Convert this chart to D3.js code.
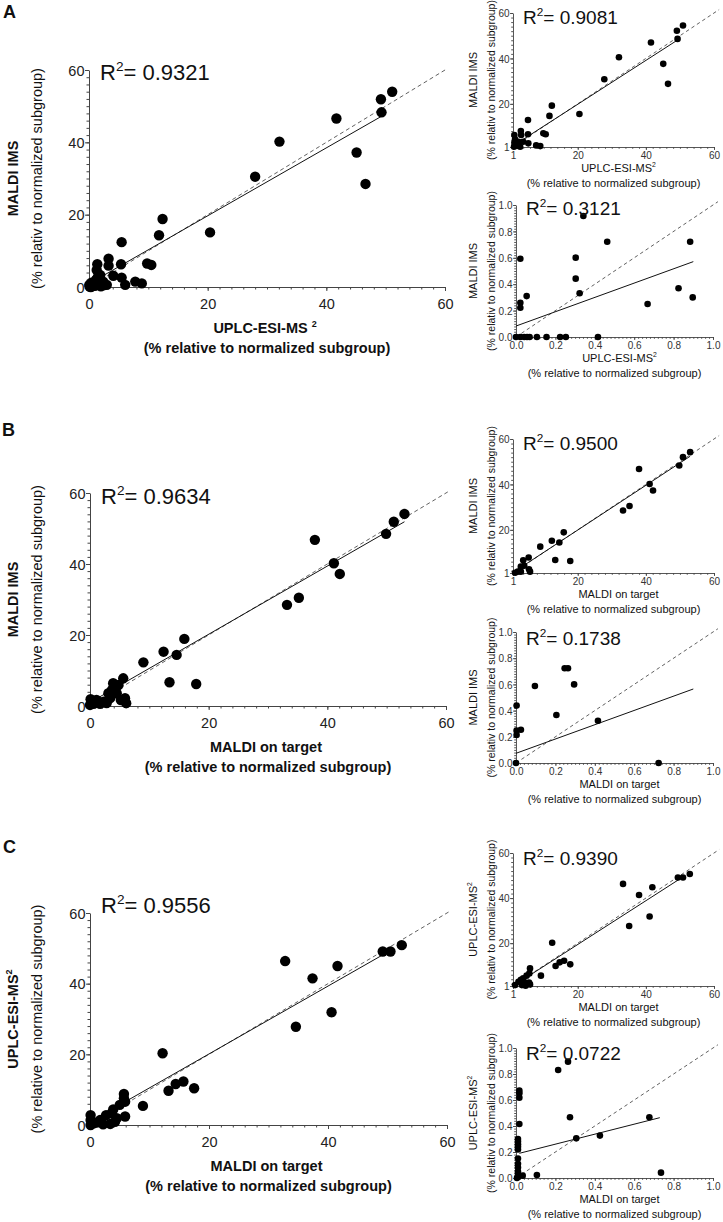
<!DOCTYPE html>
<html>
<head>
<meta charset="utf-8">
<script src="https://cdnjs.cloudflare.com/ajax/libs/d3/7.8.5/d3.min.js"></script>
<style>
  body { margin: 0; background: #fff; }
  svg { font-family: "Liberation Sans", Arial, sans-serif; }
</style>
</head>
<body>
<div id="fig"></div>
<script>

// ---- data ----
// panel A, large plot (UPLC-ESI-MS2 vs MALDI IMS)
var aX = [41.7, 32.1, 28.0, 45.1, 46.6, 49.2, 49.3, 51.1, 20.4, 12.4, 11.8, 5.5, 9.8, 10.5, 5.4, 3.3, 3.3, 1.4, 4.1, 5.5, 6.1, 7.8, 8.9, 1.3, 1.9, 2.4, 3.0, 0.2, 0.4, 0.5, 0.8, 1.0, 1.2, 1.6, 2.0, 2.5, 0.1, 0.3, 0.6, 0.9, 0.05, 0.35, 1.5];
var aY = [46.6, 40.2, 30.5, 37.2, 28.5, 51.9, 48.3, 54.0, 15.1, 18.8, 14.3, 12.4, 6.5, 6.1, 6.3, 7.8, 5.9, 6.3, 3.1, 2.6, 0.6, 1.5, 1.0, 4.7, 3.3, 1.5, 0.6, 0.5, 1.2, 0.2, 0.9, 0.3, 2.0, 1.0, 0.2, 0.5, 0.1, 0.0, 0.3, 0.6, 0.6, 0.9, 2.8];
var aFitX = [0, 49.3], aFitY = [0.9, 47.2];

// panel A, small upper plot
var a1X = [50.9, 49.1, 49.3, 41.5, 32.1, 27.8, 45.1, 46.5, 20.5, 12.4, 11.7, 5.4, 9.9, 10.6, 5.4, 3.3, 3.4, 1.4, 1.6, 1.9, 2.6, 4.0, 5.5, 7.8, 9.0, 1.3, 2.3, 3.1, 1.4];
var a1Y = [54.5, 52.2, 48.6, 47.0, 40.5, 30.8, 37.6, 28.8, 15.5, 19.2, 14.7, 12.9, 7.0, 6.6, 6.6, 8.0, 6.3, 6.3, 4.4, 2.6, 3.3, 3.3, 2.6, 1.7, 1.4, 1.1, 1.6, 1.1, 2.9];
var a1FitX = [1.3, 49.3], a1FitY = [1.75, 48.1];

// panel A, small lower plot (0-1 %)
var a2X = [0.342, 0.463, 0.884, 0.022, 0.303, 0.303, 0.323, 0.022, 0.022, 0.054, 0.825, 0.897, 0.668, 0, 0.022, 0.042, 0.056, 0.069, 0.106, 0.155, 0.224, 0.253, 0.416];
var a2Y = [0.917, 0.722, 0.722, 0.593, 0.601, 0.442, 0.331, 0.26, 0.222, 0.31, 0.369, 0.300, 0.25, 0, 0, 0, 0, 0, 0, 0, 0, 0, 0];
var a2FitX = [0, 0.9], a2FitY = [0.083, 0.571];

// panel B, large plot (MALDI on target vs MALDI IMS)
var bX = [37.9, 41.1, 42.1, 33.2, 35.2, 49.9, 51.2, 53.0, 15.9, 12.4, 14.6, 9.0, 13.4, 17.9, 5.6, 3.9, 4.8, 3.7, 3.1, 3.4, 4.5, 5.9, 6.1, 5.2, 2.3, 1.1, 0.3, 0.0, 0.6, 1.7, 2.8, 0.1];
var bY = [46.8, 40.2, 37.2, 28.5, 30.5, 48.5, 51.9, 54.1, 18.9, 15.3, 14.4, 12.3, 6.7, 6.2, 7.8, 6.4, 5.9, 4.5, 3.6, 2.2, 3.6, 2.2, 0.8, 1.7, 1.2, 1.7, 1.2, 0.3, 0.6, 0.6, 0.8, 1.9];
var bFitX = [0, 53], bFitY = [1.0, 51.9];

var b1X = [53.0, 50.9, 49.8, 38.0, 41.1, 42.1, 33.3, 35.2, 15.9, 12.4, 14.6, 9.0, 13.4, 17.8, 5.6, 4.0, 4.3, 3.3, 3.3, 6.0, 5.7, 2.4, 1.6];
var b1Y = [54.2, 52.0, 48.3, 46.8, 40.2, 37.3, 28.5, 30.5, 18.9, 15.2, 14.4, 12.6, 6.7, 6.3, 7.8, 6.6, 4.2, 3.8, 1.6, 1.6, 2.6, 1.6, 1.1];
var b1FitX = [1.3, 53], b1FitY = [1.5, 52.4];

var b2X = [0.247, 0.264, 0.295, 0.096, 0.205, 0.416, 0.003, 0.003, 0.025, 0.003, 0, 0.724];
var b2Y = [0.723, 0.723, 0.60, 0.588, 0.366, 0.323, 0.438, 0.247, 0.254, 0.214, 0, 0];
var b2FitX = [0, 0.9], b2FitY = [0.074, 0.565];

// panel C, large plot (MALDI on target vs UPLC-ESI-MS2)
var cX = [32.8, 37.4, 41.6, 34.6, 40.6, 49.2, 50.5, 52.4, 12.2, 13.2, 14.4, 15.7, 17.5, 8.9, 5.7, 5.9, 5.0, 3.9, 3.6, 2.7, 4.5, 5.9, 3.4, 4.2, 1.7, 1.1, 0.1, 0.1, 0.6, 0.1, 2.2, 5.7];
var cY = [46.4, 41.5, 45.0, 27.8, 31.9, 49.1, 49.1, 50.9, 20.3, 9.7, 11.6, 12.3, 10.4, 5.4, 8.8, 6.6, 5.7, 4.4, 3.3, 2.8, 1.9, 2.4, 0.3, 0.9, 1.4, 0.7, 2.8, 1.4, 0.5, 0, 0.2, 7.6];
var cFitX = [0, 50.5], cFitY = [0.9, 49.4];

var c1X = [33.3, 38.0, 41.9, 35.1, 41.1, 49.4, 50.9, 52.9, 12.5, 13.5, 14.7, 16.0, 17.8, 9.2, 6.0, 5.8, 5.0, 4.0, 3.3, 2.6, 4.5, 5.7, 6.0, 3.6, 1.6, 4.7];
var c1Y = [46.3, 41.4, 44.8, 27.6, 31.8, 49.1, 49.1, 50.7, 20.2, 9.9, 11.5, 12.2, 10.6, 5.6, 8.8, 6.6, 5.6, 4.4, 3.7, 2.9, 2.5, 2.5, 1.7, 1.4, 1.4, 1.1];
var c1FitX = [1.6, 50.9], c1FitY = [1.55, 49.4];

var c2X = [0.264, 0.214, 0.017, 0.017, 0.017, 0.274, 0.677, 0.017, 0.306, 0.426, 0.106, 0.736, 0.034, 0.01, 0.01, 0.01, 0.01, 0.01, 0.01, 0.01, 0.01, 0.01, 0.01, 0.01, 0.005];
var c2Y = [0.895, 0.831, 0.672, 0.651, 0.618, 0.467, 0.467, 0.415, 0.305, 0.326, 0.023, 0.041, 0.018, 0.30, 0.28, 0.26, 0.24, 0.22, 0.15, 0.11, 0.08, 0.05, 0.03, 0.01, 0];
var c2FitX = [0.017, 0.73], c2FitY = [0.19, 0.464];

// R squared labels
var rSquared = ["0.9321", "0.9081", "0.3121", "0.9634", "0.9500", "0.1738", "0.9556", "0.9390", "0.0722"];

// tick values
var bigTicks = [0, 20, 40, 60];
var smallTicks = [1, 20, 40, 60];
var fracTicks = [0, 0.2, 0.4, 0.6, 0.8, 1.0];

// ---- drawing ----
var svg = d3.select("#fig").append("svg")
  .attr("width", 723)
  .attr("height", 1222);

// text with a superscript part, e.g. R^2
function supText(sel, pre, sup, post, size, gap) {
  sel.append("tspan").text(pre);
  sel.append("tspan")
    .attr("font-size", size * 0.62)
    .attr("dx", gap || 0)
    .attr("dy", -size * 0.42)
    .text(sup);
  if (post) sel.append("tspan").attr("dy", size * 0.42).text(post);
}

function drawScatter(p) {
  var big = p.big;
  var x = d3.scaleLinear().domain(p.xDomain).range([p.left, p.right]);
  var y = d3.scaleLinear().domain(p.yDomain).range([p.bottom, p.top]);
  var g = svg.append("g");

  var majLen = big ? 4 : 3;
  var minLen = big ? 2.5 : 1.8;
  var fmt = p.frac ? d3.format(".1f") : d3.format("d");
  var axisColor = "#444";

  // minor ticks
  g.append("g")
    .attr("transform", `translate(0,${p.bottom})`)
    .call(d3.axisBottom(x).tickValues(p.minor).tickSize(minLen).tickFormat(""))
    .call(a => a.select(".domain").remove());
  g.append("g")
    .attr("transform", `translate(${p.left},0)`)
    .call(d3.axisLeft(y).tickValues(p.minor).tickSize(minLen).tickFormat(""))
    .call(a => a.select(".domain").remove());

  // major axes
  var xAxis = g.append("g")
    .attr("transform", `translate(0,${p.bottom})`)
    .call(d3.axisBottom(x).tickValues(p.ticks).tickFormat(fmt)
      .tickSize(majLen).tickSizeOuter(0).tickPadding(big ? 8 : 2));
  var yAxis = g.append("g")
    .attr("transform", `translate(${p.left},0)`)
    .call(d3.axisLeft(y).tickValues(p.ticks).tickFormat(fmt)
      .tickSize(majLen).tickSizeOuter(0).tickPadding(big ? 0.5 : 0.5));

  g.selectAll(".tick line, .domain").attr("stroke", axisColor).attr("stroke-width", big ? 1 : 0.9);
  [xAxis, yAxis].forEach(function(a) {
    a.selectAll("text")
      .attr("font-family", '"Liberation Sans", Arial, sans-serif')
      .attr("font-size", big ? 14.5 : 10)
      .attr("fill", big ? "#222" : "#333");
  });
  // y tick labels sit on the middle of the tick
  yAxis.selectAll("text").attr("dy", "0.36em");

  // identity line (dashed)
  var lo = p.xDomain[0], hi = p.xDomain[1] * (big ? 1.005 : 1.025);
  g.append("line")
    .attr("x1", x(lo)).attr("y1", y(lo))
    .attr("x2", x(hi)).attr("y2", y(hi))
    .attr("stroke", "#444")
    .attr("stroke-width", 0.85)
    .attr("stroke-dasharray", big ? "4,3" : "3.5,3");

  // regression line
  g.append("line")
    .attr("x1", x(p.fitX[0])).attr("y1", y(p.fitY[0]))
    .attr("x2", x(p.fitX[1])).attr("y2", y(p.fitY[1]))
    .attr("stroke", "#111")
    .attr("stroke-width", 1);

  // points
  var pts = p.xs.map((v, i) => [v, p.ys[i]]);
  g.selectAll("circle.pt")
    .data(pts)
    .enter()
    .append("circle")
    .attr("class", "pt")
    .attr("cx", d => x(d[0]))
    .attr("cy", d => y(d[1]))
    .attr("r", big ? 5.2 : 3.3)
    .attr("fill", "#000");

  // R^2 label
  var r = g.append("text")
    .attr("x", p.left + (big ? 11 : 10))
    .attr("y", p.top + p.rOff)
    .attr("font-size", big ? 22 : 19)
    .attr("fill", "#111");
  supText(r, "R", "2", "= " + p.r2, big ? 22 : 19);

  // x axis title
  var cx = (p.left + p.right) / 2;
  var tSize = big ? 14.5 : 11;
  var t1 = g.append("text")
    .attr("x", cx + (big ? -2 : 5))
    .attr("y", p.bottom + (big ? 41 : 21))
    .attr("dy", "0.35em")
    .attr("text-anchor", "middle")
    .attr("font-size", tSize)
    .attr("font-weight", big ? "bold" : "normal")
    .attr("fill", "#111");
  if (p.xSup) supText(t1, p.xTitle, "2", null, tSize, big ? 4 : 0);
  else t1.text(p.xTitle);
  g.append("text")
    .attr("x", cx)
    .attr("y", p.bottom + (big ? 61 : 36))
    .attr("dy", "0.35em")
    .attr("text-anchor", "middle")
    .attr("font-size", tSize)
    .attr("font-weight", big ? "bold" : "normal")
    .attr("fill", "#111")
    .text("(% relative to normalized subgroup)");

  // y axis title
  var cy = (p.top + p.bottom) / 2;
  var y1 = g.append("text")
    .attr("transform", `translate(${big ? 13 : 473},${cy}) rotate(-90)`)
    .attr("dy", "0.35em")
    .attr("text-anchor", "middle")
    .attr("font-size", tSize)
    .attr("font-weight", big ? "bold" : "normal")
    .attr("fill", "#111");
  if (p.ySup) supText(y1, p.yTitle, "2", null, tSize, 0);
  else y1.text(p.yTitle);
  g.append("text")
    .attr("transform", `translate(${big ? 37 : 491},${cy}) rotate(-90)`)
    .attr("dy", "0.35em")
    .attr("text-anchor", "middle")
    .attr("font-size", big ? 14.5 : 10.5)
    .attr("fill", "#111")
    .text(p.yTitle2);
}

var minorBig = d3.range(0, 60.001, 2);
var minorSmall = d3.range(2, 60.001, 2);
var minorFrac = d3.range(0, 1.0001, 0.02);

var relativ = "(% relativ to normalized subgroup)";
var relative = "(% relative to normalized subgroup)";

var plots = [
  // panel A
  {big: true, xs: aX, ys: aY, fitX: aFitX, fitY: aFitY, r2: rSquared[0], rOff: 10,
   left: 89, right: 445, top: 70, bottom: 287, xDomain: [0, 60], yDomain: [0, 60],
   ticks: bigTicks, minor: minorBig, xTitle: "UPLC-ESI-MS", xSup: true,
   yTitle: "MALDI IMS", yTitle2: relativ},
  {big: false, xs: a1X, ys: a1Y, fitX: a1FitX, fitY: a1FitY, r2: rSquared[1], rOff: 11,
   left: 513, right: 714, top: 13, bottom: 147, xDomain: [1, 60], yDomain: [1, 60],
   ticks: smallTicks, minor: minorSmall, xTitle: "UPLC-ESI-MS", xSup: true,
   yTitle: "MALDI IMS", yTitle2: relativ},
  {big: false, frac: true, xs: a2X, ys: a2Y, fitX: a2FitX, fitY: a2FitY, r2: rSquared[2], rOff: 10,
   left: 516, right: 713, top: 205, bottom: 337, xDomain: [0, 1], yDomain: [0, 1],
   ticks: fracTicks, minor: minorFrac, xTitle: "UPLC-ESI-MS", xSup: true,
   yTitle: "MALDI IMS", yTitle2: relativ},
  // panel B
  {big: true, xs: bX, ys: bY, fitX: bFitX, fitY: bFitY, r2: rSquared[3], rOff: 11,
   left: 90, right: 446, top: 493, bottom: 706, xDomain: [0, 60], yDomain: [0, 60],
   ticks: bigTicks, minor: minorBig, xTitle: "MALDI on target",
   yTitle: "MALDI IMS", yTitle2: relative},
  {big: false, xs: b1X, ys: b1Y, fitX: b1FitX, fitY: b1FitY, r2: rSquared[4], rOff: 11,
   left: 513, right: 714, top: 439, bottom: 573, xDomain: [1, 60], yDomain: [1, 60],
   ticks: smallTicks, minor: minorSmall, xTitle: "MALDI on target",
   yTitle: "MALDI IMS", yTitle2: relativ},
  {big: false, frac: true, xs: b2X, ys: b2Y, fitX: b2FitX, fitY: b2FitY, r2: rSquared[5], rOff: 13,
   left: 516, right: 713, top: 632, bottom: 763, xDomain: [0, 1], yDomain: [0, 1],
   ticks: fracTicks, minor: minorFrac, xTitle: "MALDI on target",
   yTitle: "MALDI IMS", yTitle2: relativ},
  // panel C
  {big: true, xs: cX, ys: cY, fitX: cFitX, fitY: cFitY, r2: rSquared[6], rOff: 0,
   left: 90, right: 447, top: 913, bottom: 1125, xDomain: [0, 60], yDomain: [0, 60],
   ticks: bigTicks, minor: minorBig, xTitle: "MALDI on target",
   yTitle: "UPLC-ESI-MS", ySup: true, yTitle2: relative},
  {big: false, xs: c1X, ys: c1Y, fitX: c1FitX, fitY: c1FitY, r2: rSquared[7], rOff: 12,
   left: 513, right: 714, top: 853, bottom: 986, xDomain: [1, 60], yDomain: [1, 60],
   ticks: smallTicks, minor: minorSmall, xTitle: "MALDI on target",
   yTitle: "UPLC-ESI-MS", ySup: true, yTitle2: relativ},
  {big: false, frac: true, xs: c2X, ys: c2Y, fitX: c2FitX, fitY: c2FitY, r2: rSquared[8], rOff: 12,
   left: 516, right: 713, top: 1048, bottom: 1178, xDomain: [0, 1], yDomain: [0, 1],
   ticks: fracTicks, minor: minorFrac, xTitle: "MALDI on target",
   yTitle: "UPLC-ESI-MS", ySup: true, yTitle2: relativ}
];

plots.forEach(drawScatter);

// panel letters
var letters = [["A", 3, 18], ["B", 2, 436], ["C", 3, 853]];
svg.selectAll("text.letter")
  .data(letters)
  .enter()
  .append("text")
  .attr("class", "letter")
  .attr("x", d => d[1])
  .attr("y", d => d[2])
  .attr("font-size", 18)
  .attr("font-weight", "bold")
  .attr("fill", "#111")
  .text(d => d[0]);

</script>
</body>
</html>
